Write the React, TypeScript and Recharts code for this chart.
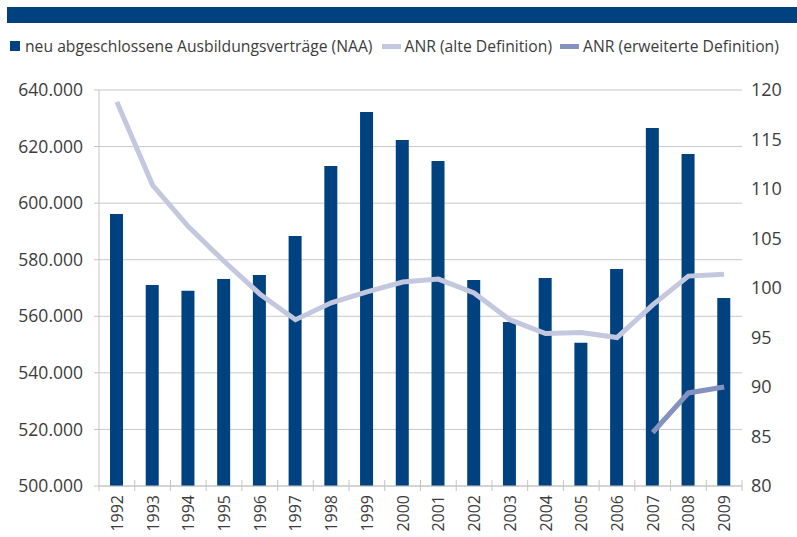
import React from 'react';
import { ComposedChart, Bar, Line, XAxis, YAxis, CartesianGrid } from 'recharts';

const years = ['1992', '1993', '1994', '1995', '1996', '1997', '1998', '1999', '2000', '2001', '2002', '2003', '2004', '2005', '2006', '2007', '2008', '2009'];
const naa = [596200, 571100, 569000, 573200, 574600, 588400, 613100, 632200, 622300, 614900, 572800, 558000, 573500, 550600, 576700, 626600, 617400, 566500];
const anrAlt = [118.8, 110.4, 106.2, 102.7, 99.4, 96.8, 98.5, 99.6, 100.6, 100.9, 99.5, 96.8, 95.4, 95.5, 95.0, 98.3, 101.2, 101.4];
const anrErw: (number | null)[] = [null, null, null, null, null, null, null, null, null, null, null, null, null, null, null, 85.4, 89.4, 90.0];
const leftTicks = [500000, 520000, 540000, 560000, 580000, 600000, 620000, 640000];
const rightTicks = [80, 85, 90, 95, 100, 105, 110, 115, 120];

const legendLabels = ['neu abgeschlossene Ausbildungsverträge (NAA)', 'ANR (alte Definition)', 'ANR (erweiterte Definition)'];

const BLUE = '#00427f';
const ALT = '#c3c8df';
const ERW = '#8591bf';
const TEXT = '#3c3c3c';
const FONT = '"Open Sans", sans-serif';

const data = years.map((y, i) => ({ year: y, naa: naa[i], alt: anrAlt[i], erw: anrErw[i] }));

const fmtLeft = (v: number) => `${Math.round(v / 1000)}.000`;

const XTick = (props: any) => {
  const { x, y, payload, index, visibleTicksCount } = props;
  const off = payload && payload.offset ? payload.offset : 0;
  const last = index === (visibleTicksCount ?? years.length) - 1;
  return (
    <g>
      <line x1={x - off} x2={x - off} y1={index === 0 ? y : y - 6} y2={y + 5} stroke="#c4c4c4" strokeWidth={1} />
      {last && <line x1={x + off} x2={x + off} y1={y - 6} y2={y + 5} stroke="#c4c4c4" strokeWidth={1} />}
      <text
        x={x}
        y={y + 9}
        transform={`rotate(-90, ${x}, ${y + 9})`}
        textAnchor="end"
        dominantBaseline="central"
        fontSize={16}
        fontFamily={FONT}
        fill={TEXT}
      >
        {payload.value}
      </text>
    </g>
  );
};

export default function App() {
  return (
    <div style={{ position: 'absolute', left: 0, top: 0, width: 797, height: 537, background: '#fff', fontFamily: FONT }}>
      <div style={{ position: 'absolute', left: 7, top: 7, width: 790, height: 16, background: BLUE }} />
      <div style={{ position: 'absolute', left: 10, top: 35, height: 22, display: 'flex', alignItems: 'center', fontSize: 15.7, color: TEXT, whiteSpace: 'nowrap' }}>
        <span style={{ display: 'inline-block', width: 10, height: 10, background: BLUE, marginRight: 5 }} />
        <span>{legendLabels[0]}</span>
        <span style={{ display: 'inline-block', width: 19, height: 5, background: ALT, marginLeft: 9, marginRight: 4 }} />
        <span>{legendLabels[1]}</span>
        <span style={{ display: 'inline-block', width: 19, height: 5, background: ERW, marginLeft: 8, marginRight: 4 }} />
        <span>{legendLabels[2]}</span>
      </div>
      <div style={{ position: 'absolute', left: 0, top: 0 }}>
        <ComposedChart width={797} height={537} data={data} margin={{ top: 90, right: 0, bottom: 0, left: 0 }} barSize={13}>
          <CartesianGrid yAxisId="left" vertical={false} stroke="#c8c8c8" strokeWidth={1} />
          <XAxis
            dataKey="year"
            height={51}
            tickSize={0}
            tickMargin={0}
            tickLine={false}
            axisLine={{ stroke: '#c4c4c4' }}
            interval={0}
            tick={<XTick />}
          />
          <YAxis
            yAxisId="left"
            orientation="left"
            width={99}
            domain={[500000, 640000]}
            ticks={leftTicks}
            tickFormatter={fmtLeft}
            tickSize={5}
            tickMargin={11}
            tickLine={{ stroke: '#c4c4c4' }}
            axisLine={{ stroke: '#c4c4c4' }}
            tick={{ fontSize: 17.5, fill: TEXT, fontFamily: FONT }}
            allowDataOverflow
          />
          <YAxis
            yAxisId="right"
            orientation="right"
            width={55}
            domain={[80, 120]}
            ticks={rightTicks}
            tickSize={0}
            tickMargin={9}
            tickLine={false}
            axisLine={false}
            tick={{ fontSize: 18, fill: TEXT, fontFamily: FONT, textAnchor: 'start' }}
          />
          <Bar yAxisId="left" dataKey="naa" fill={BLUE} isAnimationActive={false} />
          <Line yAxisId="right" dataKey="alt" type="linear" stroke={ALT} strokeWidth={5} dot={false} isAnimationActive={false} />
          <Line yAxisId="right" dataKey="erw" type="linear" stroke={ERW} strokeWidth={5} dot={false} isAnimationActive={false} connectNulls={false} />
        </ComposedChart>
      </div>
    </div>
  );
}
